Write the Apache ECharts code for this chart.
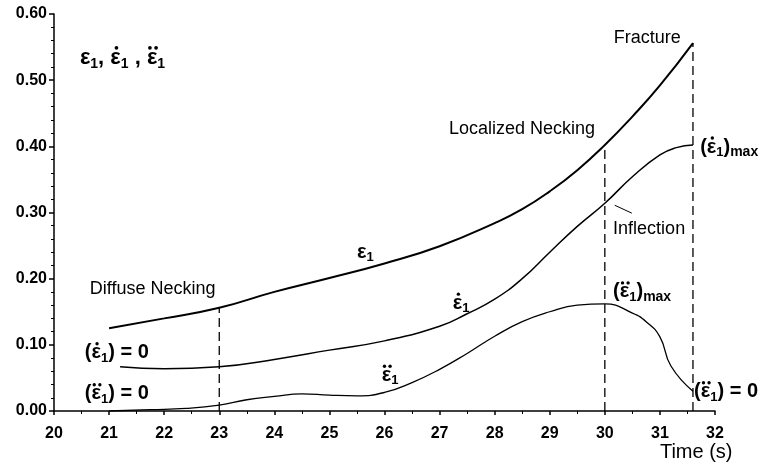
<!DOCTYPE html>
<html><head><meta charset="utf-8">
<script src="https://cdn.jsdelivr.net/npm/echarts@6/dist/echarts.min.js"></script>
<style>html,body{margin:0;padding:0;background:#fff}#c{width:764px;height:473px}</style>
</head><body><div id="c"></div>
<script>
// ---- data ----
const epsTime = [21.0, 22.0, 23.0, 24.0, 25.0, 26.0, 27.0, 28.0, 28.5, 29.0, 29.5, 30.0, 30.5, 31.0, 31.6];
const epsVal  = [0.125, 0.140, 0.156, 0.180, 0.201, 0.223, 0.249, 0.284, 0.305, 0.332, 0.364, 0.402, 0.445, 0.492, 0.556];

const rateTime = [21.2, 22.0, 23.0, 24.0, 25.0, 26.0, 27.0, 27.5, 28.0, 28.5, 29.0, 29.5, 30.0, 30.5, 31.0, 31.3, 31.6];
const rateVal  = [0.067, 0.064, 0.067, 0.078, 0.092, 0.106, 0.128, 0.147, 0.169, 0.200, 0.240, 0.279, 0.314, 0.354, 0.387, 0.398, 0.402];

const accTime = [21.0, 21.75, 22.4, 23.0, 23.5, 24.0, 24.5, 25.0, 25.5, 26.0, 26.5, 27.0, 27.5, 28.0, 28.5, 29.0, 29.5, 30.0, 30.5, 30.75, 31.0, 31.2, 31.6];
const accVal  = [0.000, 0.002, 0.004, 0.009, 0.017, 0.022, 0.026, 0.024, 0.023, 0.028, 0.043, 0.063, 0.087, 0.113, 0.135, 0.150, 0.160, 0.162, 0.148, 0.135, 0.112, 0.068, 0.030];

const eventTime = [23.0, 30.0, 31.6];
const eventTop  = [0.156, 0.402, 0.556];

const inflTime = [30.18, 30.49];
const inflVal  = [0.311, 0.299];

const yTickLabels = ['0.00', '0.10', '0.20', '0.30', '0.40', '0.50', '0.60'];

// ---- chart ----
const FONT = '"Liberation Sans", Arial, Helvetica, sans-serif';
const zip = (a, b) => a.map((t, i) => [t, b[i]]);
const chart = echarts.init(document.getElementById('c'), null, {renderer: 'canvas'});

const series = [
  {type: 'line', data: zip(epsTime, epsVal), smooth: 0.5, symbol: 'none', lineStyle: {color: '#000', width: 2}},
  {type: 'line', data: zip(rateTime, rateVal), smooth: 0.5, symbol: 'none', lineStyle: {color: '#000', width: 1.5}},
  {type: 'line', data: zip(accTime, accVal), smooth: 0.5, symbol: 'none', lineStyle: {color: '#000', width: 1.3}},
  {type: 'line', data: zip(inflTime, inflVal), symbol: 'none', lineStyle: {color: '#000', width: 1}}
];
eventTime.forEach((t, i) => series.push({
  type: 'line', data: [[t, 0], [t, eventTop[i]]], symbol: 'none',
  lineStyle: {color: '#000', width: 1.3, type: [9, 5]}
}));

chart.setOption({
  animation: false,
  backgroundColor: '#fff',
  grid: {left: 54, right: 49, top: 14, bottom: 62},
  xAxis: {
    type: 'value', min: 20, max: 32, interval: 1,
    axisLine: {lineStyle: {color: '#000', width: 1.5}},
    axisTick: {length: 4, lineStyle: {color: '#000', width: 1.5}},
    minorTick: {show: true, splitNumber: 2, length: 3, lineStyle: {color: '#000', width: 1}},
    splitLine: {show: false},
    axisLabel: {color: '#000', fontWeight: 'bold', fontSize: 16, fontFamily: FONT, margin: 15}
  },
  yAxis: {
    type: 'value', min: 0, max: 0.6, interval: 0.1,
    axisLine: {show: true, lineStyle: {color: '#000', width: 1.5}},
    axisTick: {show: true, length: 5, lineStyle: {color: '#000', width: 1.5}},
    minorTick: {show: true, splitNumber: 5, length: 3, lineStyle: {color: '#000', width: 1}},
    splitLine: {show: false},
    axisLabel: {color: '#000', fontWeight: 'bold', fontSize: 16, fontFamily: FONT, margin: 7,
      formatter: (v) => yTickLabels[Math.round(v * 10)]}
  },
  series: series
});

// ---- annotations (anchored in data coordinates) ----
const mctx = document.createElement('canvas').getContext('2d');
const fontStr = (fs, b) => (b ? 'bold ' : '') + fs + 'px ' + FONT;
function tw(t, fs, b) { mctx.font = fontStr(fs, b); return mctx.measureText(t).width; }

function composite(pos, pieces) {
  const p = chart.convertToPixel({gridIndex: 0}, pos);
  let x = p[0];
  const y = p[1];
  const els = [];
  pieces.forEach(pc => {
    const fs = pc.fs, b = pc.b !== false;
    const w = tw(pc.t, fs, b);
    const yy = y + (pc.dy || 0);
    els.push({type: 'text', silent: true, x: x, y: yy,
      style: {text: pc.t, font: fontStr(fs, b), fill: '#000', align: 'left', verticalAlign: 'middle', textAlign: 'left', textVerticalAlign: 'middle'}});
    if (pc.dots) {
      const cx = x + w / 2 + fs * 0.04;
      const cy = yy - fs * 0.45;
      const r = Math.max(1.3, fs * 0.085);
      const offs = pc.dots === 1 ? [0] : [-fs * 0.14, fs * 0.14];
      offs.forEach(o => els.push({type: 'circle', silent: true, shape: {cx: cx + o, cy: cy, r: r}, style: {fill: '#000'}}));
    }
    x += w;
  });
  return els;
}
const eps = (fs, dots) => [{t: 'ε', fs: fs, dots: dots}, {t: '1', fs: Math.round(fs * 0.65), dy: fs * 0.28}];

const annotations = [
  {pos: [20.47, 0.534], pieces: [...eps(22, 0), {t: ', ', fs: 22}, ...eps(22, 1), {t: ' , ', fs: 22}, ...eps(22, 2)]},
  {pos: [25.50, 0.240], pieces: eps(20, 0)},
  {pos: [27.24, 0.163], pieces: eps(20, 1)},
  {pos: [25.95, 0.054], pieces: eps(20, 2)},
  {pos: [20.56, 0.088], pieces: [{t: '(', fs: 20}, ...eps(20, 1), {t: ') = 0', fs: 20}]},
  {pos: [20.56, 0.026], pieces: [{t: '(', fs: 20}, ...eps(20, 2), {t: ') = 0', fs: 20}]},
  {pos: [31.62, 0.029], pieces: [{t: '(', fs: 20}, ...eps(20, 2), {t: ') = 0', fs: 20}]},
  {pos: [31.73, 0.399], pieces: [{t: '(', fs: 20}, ...eps(20, 1), {t: ')', fs: 20}, {t: 'max', fs: 14, dy: 5}]},
  {pos: [30.15, 0.180], pieces: [{t: '(', fs: 20}, ...eps(20, 2), {t: ')', fs: 20}, {t: 'max', fs: 14, dy: 5}]},
  {pos: [30.15, 0.275], pieces: [{t: 'Inflection', fs: 18, b: false}]},
  {pos: [27.17, 0.426], pieces: [{t: 'Localized Necking', fs: 18, b: false}]},
  {pos: [20.65, 0.184], pieces: [{t: 'Diffuse Necking', fs: 18, b: false}]},
  {pos: [31.00, -0.063], pieces: [{t: 'Time (s)', fs: 20, b: false}]}
];

const graphicEls = [];
annotations.forEach(a => graphicEls.push(...composite(a.pos, a.pieces)));
// "Fracture" centred above the fracture point
const fp = chart.convertToPixel({gridIndex: 0}, [30.77, 0.564]);
graphicEls.push({type: 'text', silent: true, x: fp[0], y: fp[1],
  style: {text: 'Fracture', font: fontStr(18, false), fill: '#000', align: 'center', verticalAlign: 'middle', textAlign: 'center', textVerticalAlign: 'middle'}});

chart.setOption({graphic: {elements: graphicEls}});
</script>
</body></html>
